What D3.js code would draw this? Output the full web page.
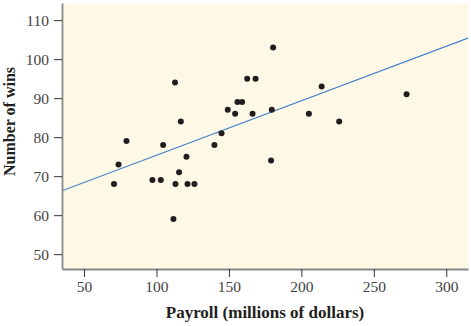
<!DOCTYPE html>
<html>
<head>
<meta charset="utf-8">
<script src="https://cdn.jsdelivr.net/npm/d3@7"></script>
<style>
  html, body { margin: 0; padding: 0; background: #ffffff; }
  svg { display: block; }
</style>
</head>
<body>
<svg id="chart" width="471" height="326"></svg>
<script>
// Team payroll (millions of dollars) and number of wins
const payroll = [112.8, 116.8, 79.3, 73.8, 104.6, 120.7, 115.6, 70.7, 97.2, 103.0,
                 113.1, 121.4, 126.2, 111.7, 180.5, 162.6, 168.4, 214.0, 155.9, 159.1,
                 149.2, 154.3, 166.3, 179.6, 205.2, 144.9, 140.0, 179.1, 272.6, 226.1];
const wins    = [94, 84, 79, 73, 78, 75, 71, 68, 69, 69,
                 68, 68, 68, 59, 103, 95, 95, 93, 89, 89,
                 87, 86, 86, 87, 86, 81, 78, 74, 91, 84];

// Least-squares line: wins = intercept + slope * payroll
const intercept = 61.4;
const slope = 0.1397;

const xTicks = [50, 100, 150, 200, 250, 300];
const yTicks = [50, 60, 70, 80, 90, 100, 110];

const svg = d3.select("#chart");
const plot = { left: 62, right: 468, top: 3, bottom: 269 };

const x = d3.scaleLinear().domain([34.8, 315]).range([plot.left, plot.right]);
const y = d3.scaleLinear().domain([46.2, 114.4]).range([plot.bottom, plot.top]);

// plotting panel
svg.append("rect")
  .attr("x", plot.left).attr("y", plot.top)
  .attr("width", plot.right - plot.left).attr("height", plot.bottom - plot.top)
  .attr("fill", "#fef8e7");

// regression line, clipped to panel
svg.append("clipPath").attr("id", "panel")
  .append("rect")
  .attr("x", plot.left).attr("y", plot.top)
  .attr("width", plot.right - plot.left).attr("height", plot.bottom - plot.top);

const xd = x.domain();
svg.append("line")
  .attr("clip-path", "url(#panel)")
  .attr("x1", x(xd[0])).attr("y1", y(intercept + slope * xd[0]))
  .attr("x2", x(xd[1])).attr("y2", y(intercept + slope * xd[1]))
  .attr("stroke", "#3f7fcb").attr("stroke-width", 1.1);

// points
svg.append("g").selectAll("circle")
  .data(payroll.map((p, i) => [p, wins[i]]))
  .join("circle")
  .attr("cx", d => x(d[0]))
  .attr("cy", d => y(d[1]))
  .attr("r", 3)
  .attr("fill", "#221e1f");

// axes
const fontFam = "'Liberation Serif', 'Times New Roman', serif";

const xAxis = svg.append("g")
  .attr("transform", `translate(0,${plot.bottom})`)
  .call(d3.axisBottom(x).tickValues(xTicks).tickSize(8).tickSizeOuter(0).tickPadding(4));
const yAxis = svg.append("g")
  .attr("transform", `translate(${plot.left},0)`)
  .call(d3.axisLeft(y).tickValues(yTicks).tickSize(8).tickSizeOuter(0).tickPadding(5));

[xAxis, yAxis].forEach(g => {
  g.select(".domain").attr("stroke", "#8a8a8a").attr("stroke-width", 1.8);
  g.selectAll(".tick line").attr("stroke", "#333").attr("stroke-width", 1);
  g.selectAll(".tick text")
    .attr("font-family", fontFam).attr("font-size", 15.5).attr("fill", "#444");
});

// axis titles
svg.append("text")
  .attr("x", (plot.left + plot.right) / 2).attr("y", 318)
  .attr("text-anchor", "middle")
  .attr("font-family", fontFam).attr("font-weight", "bold").attr("font-size", 17)
  .attr("fill", "#231f20")
  .text("Payroll (millions of dollars)");

svg.append("text")
  .attr("transform", "translate(15,121.5) rotate(-90)")
  .attr("text-anchor", "middle")
  .attr("font-family", fontFam).attr("font-weight", "bold").attr("font-size", 16)
  .attr("fill", "#231f20")
  .text("Number of wins");
</script>
</body>
</html>
